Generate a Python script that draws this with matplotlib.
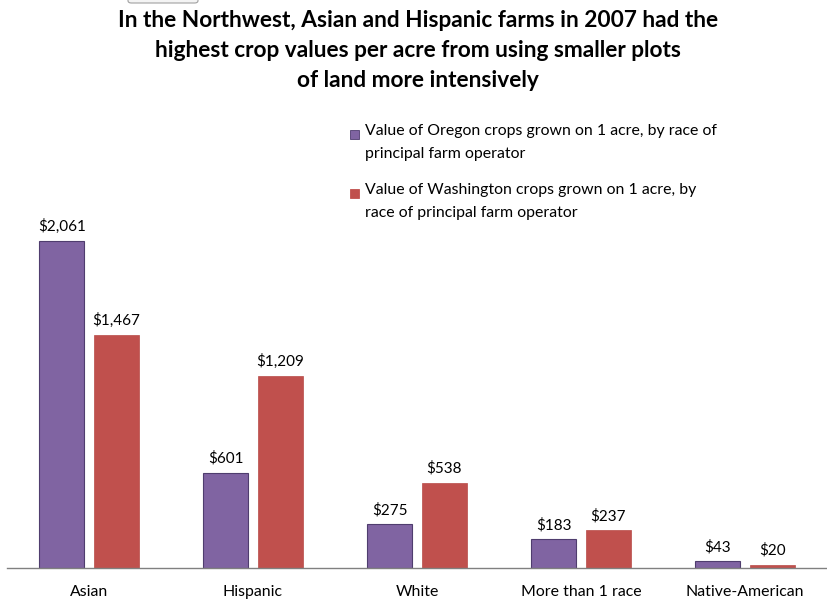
import matplotlib
matplotlib.use("Agg")
import matplotlib.pyplot as plt
from matplotlib.patches import FancyBboxPatch
import numpy as np

categories = ["Asian", "Hispanic", "White", "More than 1 race", "Native-American"]
oregon = [2061, 601, 275, 183, 43]
washington = [1467, 1209, 538, 237, 20]
series_names = ["Value of Oregon crops grown on 1 acre, by race of\nprincipal farm operator",
                "Value of Washington crops grown on 1 acre, by\nrace of principal farm operator"]
title = ("In the Northwest, Asian and Hispanic farms in 2007 had the\n"
         "highest crop values per acre from using smaller plots\n"
         "of land more intensively")

FONT = "Lato"
W, H = 828, 599
fig = plt.figure(figsize=(W / 100, H / 100), dpi=100)
ax_left, ax_right, ax_bottom, ax_top = 7, 827, 568, 110
ax = fig.add_axes([ax_left / W, 1 - ax_bottom / H, (ax_right - ax_left) / W, (ax_bottom - ax_top) / H])

x = np.arange(len(categories))
bw = 0.274
off = 0.165
purple = "#8064A2"
red = "#C0504D"
b1 = ax.bar(x - off, oregon, bw, color=purple, edgecolor="#4F3D6E", linewidth=0.8)
b2 = ax.bar(x + off, washington, bw, color=red, edgecolor="#B84A47", linewidth=0.5)

for bars, vals in ((b1, oregon), (b2, washington)):
    for r, v in zip(bars, vals):
        ax.annotate(f"${v:,}", (r.get_x() + r.get_width() / 2, v), xytext=(0, 5),
                    textcoords="offset points", ha="center", va="bottom",
                    fontsize=11, family=FONT, color="#000000")

ax.set_xlim(-0.5, len(categories) - 0.5)
ax.set_ylim(0, (ax_bottom - ax_top) / (327 / 2061))
ax.set_xticks(x)
ax.set_xticklabels(categories, fontsize=11.4, family=FONT)
ax.tick_params(axis="x", length=0, pad=12)
ax.set_yticks([])
for s in ("top", "right", "left"):
    ax.spines[s].set_visible(False)
ax.spines["bottom"].set_color("#808080")
ax.spines["bottom"].set_linewidth(1.0)

fig.text(418 / W, 1 - 10 / H, title, ha="center", va="top", fontsize=16.3, fontweight="bold",
         family=FONT, linespacing=1.53)

# small box remnant at the top
fig.patches.append(FancyBboxPatch((128 / W, 1 - 3 / H), 70 / W, 10 / H,
                                  boxstyle="round,pad=0,rounding_size=0.004",
                                  transform=fig.transFigure, facecolor="#F4F4F4",
                                  edgecolor="#A0A0A0", linewidth=0.8))

# legend
leg_items = [(purple, "#4F3D6E", series_names[0], 134), (red, red, series_names[1], 193)]
for fc, ec, txt, ypx in leg_items:
    fig.patches.append(plt.Rectangle(((350) / W, 1 - (ypx + 5) / H), 9 / W, 9 / H,
                                     transform=fig.transFigure, facecolor=fc, edgecolor=ec, linewidth=0.6))
    fig.text(365 / W, 1 - (ypx - 10) / H, txt, ha="left", va="top", fontsize=11.4, family=FONT,
             linespacing=1.8)

fig.savefig("out.png", dpi=100)
